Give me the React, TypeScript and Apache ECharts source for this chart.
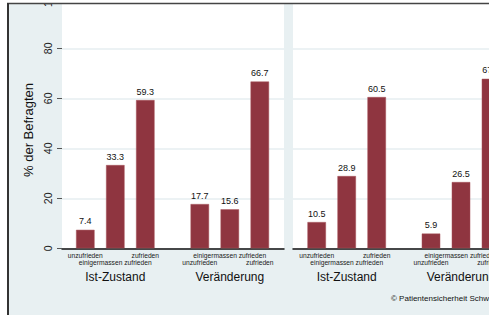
import React, { useEffect, useRef } from "react";
import * as echarts from "echarts";

const categories = ["unzufrieden", "einigermassen zufrieden", "zufrieden"];
const groupTitles = ["Ist-Zustand", "Veränderung"];
const panel1Ist = [7.4, 33.3, 59.3];
const panel1Veraenderung = [17.7, 15.6, 66.7];
const panel2Ist = [10.5, 28.9, 60.5];
const panel2Veraenderung = [5.9, 26.5, 67.8];
const yAxisTitle = "% der Befragten";
const credit = "© Patientensicherheit Schweiz";

const FONT = "'Liberation Sans', Arial, Helvetica, sans-serif";
const BAR = "#8f3540";
const BG = "#e8f0f2";
const GRID_LINE = "#e6eef1";

export default function App() {
  const ref = useRef<HTMLDivElement>(null);
  useEffect(() => {
    document.body.style.margin = "0";
    const chart = echarts.init(ref.current!, undefined, { renderer: "svg" });

    const top = -1.7;
    const height = 250;
    const common = { top, height, outerBoundsMode: "none", containLabel: false };
    const panelGrids = [
      { ...common, left: 62, width: 222, show: true, backgroundColor: "#fff", borderWidth: 0 },
      { ...common, left: 70.3, width: 90 },
      { ...common, left: 184.8, width: 90 },
      { ...common, left: 293, width: 222, show: true, backgroundColor: "#fff", borderWidth: 0 },
      { ...common, left: 301.7, width: 90 },
      { ...common, left: 416, width: 90 },
    ];

    const bgX = (gi: number) => ({
      type: "value",
      gridIndex: gi,
      min: 0,
      max: 1,
      axisLine: { show: true, onZero: false, lineStyle: { color: "#111", width: 1.5 } },
      axisTick: { show: false },
      axisLabel: { show: false },
      splitLine: { show: false },
    });
    const groupX = (gi: number, offset: number, title: string) => ({
      type: "category",
      gridIndex: gi,
      data: categories,
      axisLine: { show: false },
      axisTick: { show: false },
      axisLabel: {
        interval: 0,
        fontSize: 6.7,
        lineHeight: 7,
        margin: 4,
        color: "#1a1a1a",
        formatter: (v: string, i: number) => ((offset + i) % 2 === 1 ? "\n" + v : v),
      },
      name: title,
      nameLocation: "middle",
      nameGap: 22,
      nameTextStyle: { fontSize: 12, color: "#111" },
    });
    const bgY = (gi: number, labels: boolean) => ({
      type: "value",
      gridIndex: gi,
      min: 0,
      max: 100,
      interval: 20,
      axisLine: { show: false },
      axisTick: { show: labels, length: 5, lineStyle: { color: "#555", width: 1 } },
      axisLabel: { show: labels, rotate: 90, fontSize: 10.5, color: "#222", margin: 9 },
      splitLine: { show: true, lineStyle: { color: GRID_LINE, width: 1.5 } },
    });
    const hiddenY = (gi: number) => ({
      type: "value",
      gridIndex: gi,
      min: 0,
      max: 100,
      show: false,
      splitLine: { show: false },
    });

    const barSeries = (gi: number, data: number[]) => ({
      type: "bar",
      xAxisIndex: gi,
      yAxisIndex: gi,
      data,
      barWidth: 18.5,
      itemStyle: { color: BAR, borderColor: "#a65058", borderWidth: 0.5 },
      label: {
        show: true,
        position: "top",
        distance: 4,
        fontSize: 9,
        color: "#111",
        formatter: (p: any) => Number(p.value).toFixed(1),
      },
    });

    chart.setOption({
      animation: false,
      backgroundColor: BG,
      textStyle: { fontFamily: FONT },
      grid: panelGrids,
      xAxis: [
        bgX(0),
        groupX(1, 0, groupTitles[0]),
        groupX(2, 3, groupTitles[1]),
        bgX(3),
        groupX(4, 0, groupTitles[0]),
        groupX(5, 3, groupTitles[1]),
      ],
      yAxis: [bgY(0, true), hiddenY(1), hiddenY(2), bgY(3, false), hiddenY(4), hiddenY(5)],
      series: [
        barSeries(1, panel1Ist),
        barSeries(2, panel1Veraenderung),
        barSeries(4, panel2Ist),
        barSeries(5, panel2Veraenderung),
      ],
      graphic: [
        {
          type: "text",
          x: 28,
          y: 130,
          rotation: Math.PI / 2,
          z: 50,
          style: {
            text: yAxisTitle,
            fontSize: 13,
            fontFamily: FONT,
            fill: "#111",
            textAlign: "center",
            textVerticalAlign: "middle",
          },
        },
        {
          type: "text",
          x: 391,
          y: 298,
          z: 50,
          style: {
            text: credit,
            fontSize: 8,
            fontFamily: FONT,
            fill: "#111",
            textAlign: "left",
            textVerticalAlign: "middle",
          },
        },
        { type: "rect", z: 100, shape: { x: 0, y: 0, width: 489, height: 3 }, style: { fill: "#fff" } },
        { type: "rect", z: 100, shape: { x: 0, y: 0, width: 7, height: 315 }, style: { fill: "#fff" } },
        {
          type: "line",
          z: 101,
          shape: { x1: 7, y1: 3.6, x2: 489, y2: 3.6 },
          style: { stroke: "#444", lineWidth: 1.5 },
        },
        {
          type: "line",
          z: 101,
          shape: { x1: 8, y1: 3, x2: 8, y2: 315 },
          style: { stroke: "#333", lineWidth: 2 },
        },
      ],
    });
    return () => chart.dispose();
  }, []);
  return <div ref={ref} style={{ width: 489, height: 315 }} />;
}
